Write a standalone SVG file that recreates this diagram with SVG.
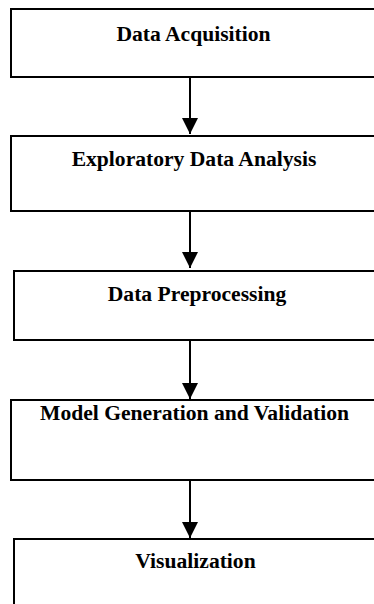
<svg xmlns="http://www.w3.org/2000/svg" width="374" height="604" viewBox="0 0 374 604">
  <style>
    .box { fill: #ffffff; stroke: #000000; stroke-width: 2; }
    .label { font-family: "Liberation Serif", "Times New Roman", serif; font-weight: bold; font-size: 21.6px; fill: #000000; text-anchor: middle; }
    .edge { stroke: #000000; stroke-width: 2; fill: none; }
  </style>
  <defs>
    <marker id="arrowhead" viewBox="0 0 16 16" refX="16" refY="8" markerWidth="16" markerHeight="16" markerUnits="userSpaceOnUse" orient="auto">
      <path d="M0,0 L16,8 L0,16 Z" fill="#000000"/>
    </marker>
  </defs>
  <rect width="374" height="604" fill="#ffffff"/>

  <g id="node-acquisition">
    <rect class="box" x="11" y="9" width="366" height="68"/>
    <text class="label" x="193.5" y="41">Data Acquisition</text>
  </g>
  <g id="node-eda">
    <rect class="box" x="11" y="136" width="366" height="75"/>
    <text class="label" x="194" y="166">Exploratory Data Analysis</text>
  </g>
  <g id="node-preprocessing">
    <rect class="box" x="14" y="271" width="366" height="69"/>
    <text class="label" x="197" y="301">Data Preprocessing</text>
  </g>
  <g id="node-model">
    <rect class="box" x="11" y="400" width="366" height="80"/>
    <text class="label" x="194.5" y="420">Model Generation and Validation</text>
  </g>
  <g id="node-visualization">
    <rect class="box" x="14" y="539" width="366" height="70"/>
    <text class="label" x="195.5" y="568">Visualization</text>
  </g>

  <g id="connectors">
    <line class="edge" x1="190" y1="78" x2="190" y2="134" marker-end="url(#arrowhead)"/>
    <line class="edge" x1="190" y1="212" x2="190" y2="268" marker-end="url(#arrowhead)"/>
    <line class="edge" x1="190" y1="341" x2="190" y2="399" marker-end="url(#arrowhead)"/>
    <line class="edge" x1="190" y1="481" x2="190" y2="538" marker-end="url(#arrowhead)"/>
  </g>
</svg>
